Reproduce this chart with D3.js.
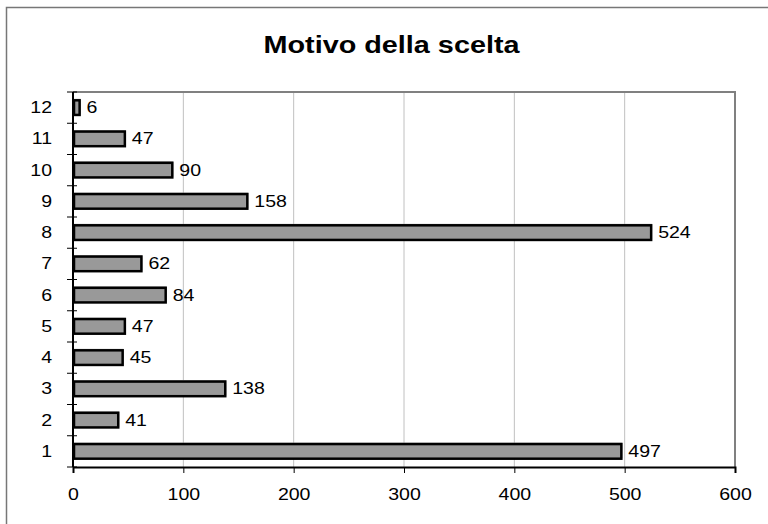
<!DOCTYPE html>
<html><head><meta charset="utf-8">
<script src="https://cdn.jsdelivr.net/npm/d3@7"></script>
<style>body{margin:0;background:#fff;} text{font-family:"Liberation Sans",Arial,sans-serif;}</style>
</head><body><svg id="c" width="768" height="524"></svg>
<script>
const categories = ["1","2","3","4","5","6","7","8","9","10","11","12"];
const values = [497,41,138,45,47,84,62,524,158,90,47,6];
const xTicks = [0,100,200,300,400,500,600];
const title = "Motivo della scelta";

const svg = d3.select("#c");
const W = 768, H = 524;
const m = {left:73, right:735, top:92, bottom:467};
const SX = 1.15, FS = 17;

svg.append("rect").attr("x",6.5).attr("y",7.5).attr("width",W+10).attr("height",H+10)
  .attr("fill","#fff").attr("stroke","#777").attr("stroke-width",1.5);

const x = d3.scaleLinear().domain([0,600]).range([m.left,m.right]);
const y = d3.scaleBand().domain(categories.slice().reverse()).range([m.top,m.bottom]).paddingInner(0.5).paddingOuter(0.25);

svg.append("text").attr("transform","translate(391.5,53) scale(1.2,1)").attr("text-anchor","middle")
  .attr("font-size",24).attr("font-weight","bold").text(title);

// gridlines
svg.append("g").selectAll("line").data(xTicks.filter(d=>d>0)).join("line")
  .attr("x1",d=>x(d)).attr("x2",d=>x(d)).attr("y1",m.top).attr("y2",m.bottom)
  .attr("stroke","#c0c0c0").attr("stroke-width",1);

// plot border top/right
svg.append("path").attr("d",`M${m.left},${m.top}H${m.right}V${m.bottom}`)
  .attr("fill","none").attr("stroke","#808080").attr("stroke-width",2);

// bars
const bars = svg.append("g").selectAll("g").data(values).join("g");
bars.append("rect")
  .attr("x",x(0)+1).attr("y",(d,i)=>y(categories[i])-1)
  .attr("width",d=>x(d)-x(0)).attr("height",y.bandwidth())
  .attr("fill","#aaa");
bars.append("rect")
  .attr("x",x(0)+1).attr("y",(d,i)=>y(categories[i])+0.5)
  .attr("width",d=>x(d)-x(0)-1).attr("height",y.bandwidth()-1)
  .attr("fill","#999").attr("stroke","#000").attr("stroke-width",2.5);
bars.append("text")
  .attr("transform",(d,i)=>`translate(${x(d)+7},${y(categories[i])+y.bandwidth()/2+5.5}) scale(${SX},1)`)
  .attr("font-size",FS).text(d=>d);

// x axis
const xa = svg.append("g").attr("transform",`translate(0,${m.bottom})`)
  .call(d3.axisBottom(x).tickValues(xTicks).tickSize(6));
xa.select(".domain").attr("stroke","#000").attr("stroke-width",2);
xa.selectAll(".tick line").attr("stroke","#000");
xa.selectAll("text").attr("y",0).attr("dy",null)
  .attr("transform",`translate(0,33) scale(${SX},1)`)
  .attr("font-size",FS).attr("fill","#000").attr("font-family","Liberation Sans, Arial, sans-serif");

// y axis
svg.append("line").attr("x1",m.left).attr("x2",m.left).attr("y1",m.top).attr("y2",m.bottom)
  .attr("stroke","#000").attr("stroke-width",2);
const step = (m.bottom-m.top)/categories.length;
svg.append("g").selectAll("line").data(d3.range(categories.length+1)).join("line")
  .attr("x1",m.left-6).attr("x2",m.left+4)
  .attr("y1",i=>m.top+i*step).attr("y2",i=>m.top+i*step)
  .attr("stroke","#000").attr("stroke-width",1);
svg.append("g").selectAll("text").data(categories).join("text")
  .attr("transform",d=>`translate(${m.left-21},${y(d)+y.bandwidth()/2+5.5}) scale(${SX},1)`)
  .attr("text-anchor","end").attr("font-size",FS).text(d=>d);
</script></body></html>
